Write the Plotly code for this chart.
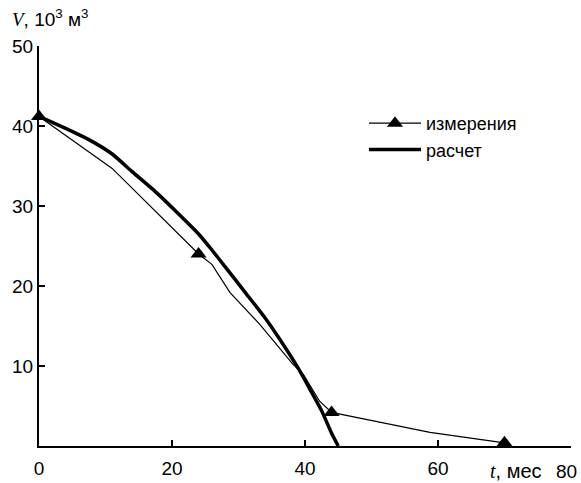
import plotly.graph_objects as go

# measured curve (thin line); markers at measurement points
meas_t = [0, 11, 24, 26, 28.7, 33.2, 38.2, 39.7, 42.2, 44, 58.8, 70]
meas_v = [41.2, 34.7, 24, 22.7, 19.2, 15.2, 10.2, 9.0, 5.6, 4.2, 1.7, 0.4]
# measurement points (markers)
mark_t = [0, 24, 44, 70]
mark_v = [41.2, 24, 4.2, 0.4]

# calculated curve (thick line)
calc_t = [0, 4, 7.5, 11, 14, 17.5, 21, 24, 26, 28, 31, 34, 36, 39, 41, 42.5, 44, 45]
calc_v = [41.2, 39.7, 38.3, 36.5, 34.3, 31.8, 29.0, 26.5, 24.5, 22.4, 19.2, 16.0, 13.6, 9.7, 6.7, 4.4, 1.6, 0]

x_ticks = [0, 20, 40, 60, 80]
y_ticks = [10, 20, 30, 40, 50]

FONT = "Liberation Sans, Arial, sans-serif"
FS = 19

fig = go.Figure()
fig.add_trace(go.Scatter(
    x=meas_t, y=meas_v, mode="lines", showlegend=False,
    line=dict(color="black", width=1.2),
))
fig.add_trace(go.Scatter(
    x=mark_t, y=mark_v, mode="markers", showlegend=False, cliponaxis=False,
    marker=dict(symbol="triangle-up", color="black", size=14, line=dict(width=0)),
))
fig.add_trace(go.Scatter(
    x=calc_t, y=calc_v, mode="lines", showlegend=False,
    line=dict(color="black", width=3.5, shape="spline", smoothing=0.5),
))
# legend entries
fig.add_trace(go.Scatter(
    x=[None], y=[None], mode="lines+markers", name="измерения", legendgroup="a",
    line=dict(color="black", width=1.2),
    marker=dict(symbol="triangle-up", color="black", size=14, line=dict(width=0)),
))
fig.add_trace(go.Scatter(
    x=[None], y=[None], mode="lines", name="расчет", legendgroup="b",
    line=dict(color="black", width=3.5),
))

fig.update_layout(
    width=581, height=483,
    margin=dict(l=39, r=10, t=46, b=37),
    plot_bgcolor="white", paper_bgcolor="white",
    font=dict(family=FONT, size=FS, color="black"),
    showlegend=True,
    legend=dict(x=(364 - 39) / 532, y=0.8525, xanchor="left", yanchor="top",
                bgcolor="rgba(0,0,0,0)", font=dict(size=18), tracegroupgap=0,
                itemwidth=52),
    xaxis=dict(range=[0, 80], tickvals=x_ticks,
               ticktext=[str(v) if v != 80 else "" for v in x_ticks],
               showline=True, linecolor="black", linewidth=2, ticks="inside",
               ticklen=6, tickwidth=2, tickcolor="black", showgrid=False,
               zeroline=False, automargin=False, ticklabelstandoff=4),
    yaxis=dict(range=[0, 50], tickvals=y_ticks, ticktext=[str(v) for v in y_ticks],
               showline=True, linecolor="black", linewidth=2, ticks="inside",
               ticklen=6, tickwidth=2, tickcolor="black", showgrid=False,
               zeroline=False, automargin=False),
)
fig.add_annotation(
    xref="paper", yref="paper", x=(566 - 39) / 532, y=-0.0625,
    xanchor="center", yanchor="middle", text=str(x_ticks[-1]),
    showarrow=False, font=dict(size=FS),
)
fig.add_annotation(
    xref="paper", yref="paper", x=-0.0545, y=1.07, xanchor="left", yanchor="middle",
    text="<span style='font-family:Liberation Serif'><i>V</i></span>, 10<sup>3</sup> м<sup>3</sup>",
    showarrow=False, font=dict(size=FS),
)
fig.add_annotation(
    xref="paper", yref="paper", x=0.8966, y=-0.0625, xanchor="center", yanchor="middle",
    text="<span style='font-family:Liberation Serif'><i>t</i></span>, мес",
    showarrow=False, font=dict(size=20),
)
fig.write_html("out.html", config={"displayModeBar": False},
               post_script="document.body.style.margin='0';document.body.style.overflow='hidden';")
